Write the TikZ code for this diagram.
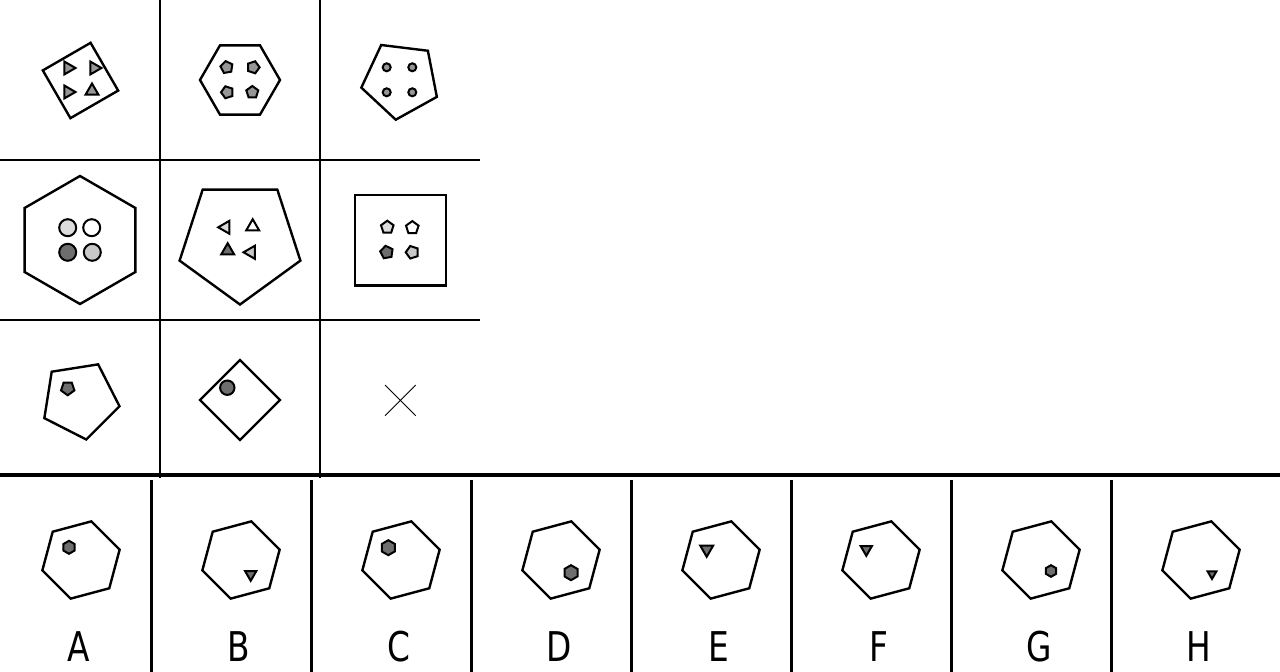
\documentclass[tikz,border=0pt]{standalone}
\usepackage{fontspec}
\newfontfamily\optfont{DejaVu Sans}[FakeStretch=0.8]
\definecolor{lgray}{HTML}{DCDCDC}
\definecolor{lgrayb}{HTML}{C8C8C8}
\definecolor{mgray}{HTML}{969696}
\definecolor{dgray}{HTML}{6E6E6E}
% sides, x, y, radius, angle of first vertex, options
\newcommand{\regpoly}[6]{\draw[#6,shift={(#2,#3)}] (#5:#4) \foreach \k in {2,...,#1}{ -- ({#5+(\k-1)*360/#1}:#4)} -- cycle;}
\begin{document}
\begin{tikzpicture}[x=1pt,y=1pt,line join=miter,
	outer/.style={line width=2.4},
	inner/.style={line width=2,fill=#1},inner/.default=mgray]
				\fill[white] (0,0) rectangle (1280,672);
				\useasboundingbox (0,0) rectangle (1280,672);
				% grid
				\foreach \x in {160,320} \draw[line width=2.6] (\x,672) -- (\x,194);
				\foreach \y in {512,352} \draw[line width=2.2] (0,\y) -- (480,\y);
				\draw[line width=4] (0,197) -- (1280,197);
				\foreach \x in {151,311,...,1111} \draw[line width=3] (\x,192) -- (\x,0);
				% row 1
				\regpoly{4}{80.5}{591.5}{39}{-15}{outer}
				\foreach \p/\q/\a in {68/604/0,94/604/0,68/580/0,92/581/90} \regpoly{3}{\p}{\q}{7.5}{\a}{inner};
				\regpoly{6}{240}{592}{40}{0}{outer}
				\foreach \p/\q/\a in {226.7/604.7/100,253.3/604.7/0,227.3/579.7/180,252.3/579.7/90} \regpoly{5}{\p}{\q}{6.3}{\a}{inner};
				\regpoly{5}{400.6}{592}{40}{47}{outer}
				\foreach \p/\q in {386.7/604.7,412.3/604.7,386.7/579.7,412.3/579.7} \filldraw[inner] (\p,\q) circle (4);
				% row 2
				\regpoly{6}{80}{432}{64}{90}{outer}
				\foreach \p/\q/\c in {67.7/444.3/lgray,91.7/444.3/white,67.7/419.7/dgray,92.3/419.7/lgrayb} \filldraw[inner=\c] (\p,\q) circle (8.5);
				\regpoly{5}{240}{431}{63.5}{270}{outer}
				\foreach \p/\q/\a/\c in {225.7/444.7/180/lgray,252.7/445.3/90/white,227.7/421.3/90/dgray,251/419.7/180/lgrayb} \regpoly{3}{\p}{\q}{7.5}{\a}{inner=\c};
				\draw[outer] (355,386.3) rectangle (445.7,477);
				\foreach \p/\q/\a/\c in {387.3/444.7/90/lgray,412.3/444.3/90/white,386.7/419.7/100/dgray,412.3/419.7/180/lgrayb} \regpoly{5}{\p}{\q}{6.6}{\a}{inner=\c};
				% row 3
				\regpoly{5}{80}{272}{40}{63}{outer}
				\regpoly{5}{67.7}{283.7}{7}{270}{inner=dgray}
				\regpoly{4}{240}{272}{40}{0}{outer}
				\filldraw[inner=dgray] (227.3,284.3) circle (7.2);
				\draw[line width=0.8] (385,287) -- (415.7,256.3) (385,256.3) -- (415.7,287);
				% options
				\foreach \i in {0,...,7} \regpoly{6}{81+160*\i}{112}{40}{15}{outer};
				\regpoly{6}{69}{124.7}{6.5}{90}{inner=dgray}
				\regpoly{3}{250.7}{97.7}{6.5}{270}{inner=dgray}
				\regpoly{6}{388.3}{124.3}{7.5}{90}{inner=dgray}
				\regpoly{6}{571}{99.3}{7.5}{90}{inner=dgray}
				\regpoly{3}{706.7}{122.7}{7.5}{270}{inner=dgray}
				\regpoly{3}{866.3}{122.7}{6.5}{270}{inner=dgray}
				\regpoly{6}{1051}{101}{5.8}{90}{inner=dgray}
				\regpoly{3}{1212}{98}{5}{270}{inner=dgray}
				\foreach \l [count=\i from 0] in {A,B,C,D,E,F,G,H}
					\node[anchor=base,inner sep=0,font=\optfont\fontsize{41}{41}\selectfont] (opt\l) at (79+160*\i,10) {\l};
			\end{tikzpicture}
\end{document}
